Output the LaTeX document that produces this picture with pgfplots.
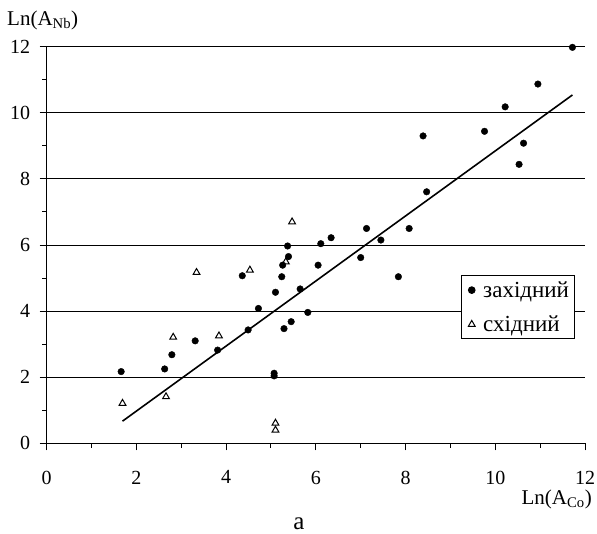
\documentclass[border=0pt]{standalone}
\usepackage{fontspec}
\setmainfont{Liberation Serif}
\usepackage{pgfplots}
\pgfplotsset{compat=1.18}

\pgfplotstableread{
x y
1.66 2.17
2.63 2.25
2.79 2.68
3.31 3.10
3.81 2.82
4.36 5.07
4.49 3.43
4.72 4.08
5.10 4.57
5.07 2.12
5.07 2.04
5.24 5.04
5.26 5.39
5.29 3.47
5.39 5.65
5.37 5.97
5.45 3.68
5.65 4.67
5.82 3.96
6.05 5.39
6.11 6.04
6.34 6.22
7.00 5.62
7.13 6.50
7.45 6.15
7.84 5.04
8.08 6.50
8.47 7.61
8.39 9.30
9.76 9.44
10.22 10.18
10.53 8.44
10.63 9.08
10.95 10.87
11.72 11.98
}\west

\pgfplotstableread{
x y
1.69 1.21
2.66 1.41
2.82 3.21
3.34 5.17
3.84 3.25
4.53 5.24
5.10 0.61
5.10 0.40
5.33 5.49
5.47 6.70
}\east

\begin{document}
\begin{tikzpicture}[font=\fontsize{20bp}{24bp}\selectfont]
\path[use as bounding box] (-46.7bp,-90.7bp) rectangle (550.3bp,443.3bp);
\begin{axis}[
  at={(0,0)}, anchor=south west,
  scale only axis, width=538.3bp, height=396.6bp,
  xmin=0, xmax=12, ymin=0, ymax=12,
  clip=false,
  axis x line=bottom, axis y line=left,
  axis line style={-, line width=1bp, black},
  xtick={0,2,...,12}, ytick={0,2,...,12},
  minor x tick num=1, minor y tick num=1,
  tick align=outside, major tick length=7bp, minor tick length=4.5bp,
  every tick/.style={line width=1bp, black},
  ymajorgrids, major grid style={line width=0.9bp, black},
  /pgf/number format/assume math mode=true,
  tick label style={font=\fontsize{20bp}{24bp}\selectfont},
  yticklabel style={xshift=-6bp},
  xticklabel style={yshift=-17bp},
  every axis y label/.style={at={(axis cs:-0.885,12.63)}, anchor=base west, inner sep=0pt, font=\fontsize{21bp}{25bp}\selectfont},
  every axis x label/.style={at={(axis cs:12.155,-1.837)}, anchor=base east, inner sep=0pt, font=\fontsize{21bp}{25bp}\selectfont},
  ylabel={Ln(A\textsubscript{Nb})},
  xlabel={Ln(A\textsubscript{Co})},
  legend style={at={(axis cs:9.23,5.092)}, anchor=north west, draw=black,
    line width=1bp, fill=white, font=\fontsize{23bp}{27bp}\selectfont,
    inner xsep=3bp, inner ysep=4bp, row sep=13bp},
  legend cell align=left,
  reverse legend,
  legend image code/.code={\path (0bp,0bp) (16bp,0bp); \draw[#1] plot coordinates {(7bp,0bp)};},
]
\addplot[only marks, mark=triangle*, mark size=3.9bp, mark options={fill=white, draw=black, line width=1bp}] table {\east};
\addlegendentry{східний}
\addplot[only marks, mark=*, mark size=3.3bp, mark options={fill=black, draw=black}] table {\west};
\addlegendentry{західний}
\addplot[no marks, line width=1.6bp, black, forget plot] coordinates {(1.69,0.67) (11.72,10.54)};
\node[anchor=base, inner sep=0pt, font=\fontsize{25bp}{30bp}\selectfont] at (axis cs:5.624,-2.593) {а};
\end{axis}
\end{tikzpicture}
\end{document}
